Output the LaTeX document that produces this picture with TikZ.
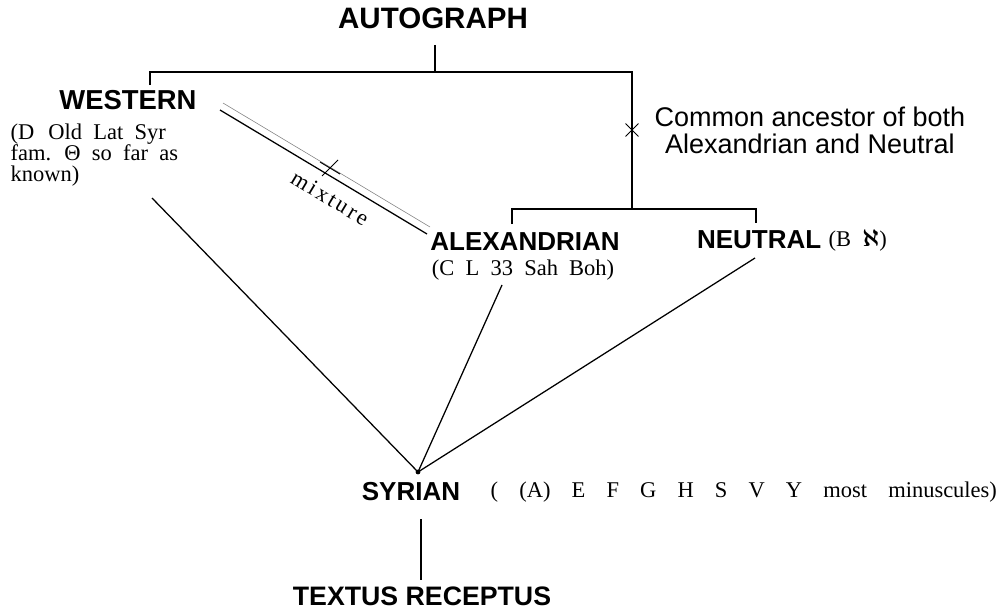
\documentclass[tikz,border=0pt]{standalone}
\usepackage{fontspec}
\setmainfont{Liberation Serif}
\setsansfont{Liberation Sans}
\newfontfamily\spacedfont[LetterSpace=12]{Liberation Serif}
\newcommand\wordgap[1]{\spaceskip #1\relax}
\usetikzlibrary{shapes.misc}

\begin{document}
\begin{tikzpicture}[line width=0.9pt,
		family/.style={font=\sffamily\bfseries\fontsize{18.5}{20}\selectfont, inner sep=0pt},
		witness/.style={font={\fontsize{16}{15}\selectfont\wordgap{0.5em}}, inner sep=0pt},
		remark/.style={font=\sffamily\fontsize{19.2}{19}\selectfont, align=center, inner sep=0pt}]
	\useasboundingbox (0,0) rectangle (25.15,-15.3);

	\node[family, font=\sffamily\bfseries\fontsize{21}{22}\selectfont] (auto) at (10.825,-0.45) {AUTOGRAPH};
	\node[family, font=\sffamily\bfseries\fontsize{19.5}{21}\selectfont] (west) at (3.2,-2.5) {WESTERN};
	\node[witness, anchor=north west, align=left, font={\fontsize{16}{15}\selectfont\wordgap{0.5em}}] (westnote) at (0.25,-3.08)
		{(D\hspace{2pt} Old Lat Syr\\ fam. Θ so far as\\ known)};
	\node[family] (alex) at (13.125,-6.05) {ALEXANDRIAN};
	\node[witness] (alexnote) at (13.075,-6.75) {(C L 33 Sah Boh)};
	\node[family] (neut) at (18.98,-6.0) {NEUTRAL};
	\node[witness, anchor=west] (neutnote) at (20.7,-6.0) {(B {\boldmath$\aleph$})};
	\node[family] (syr) at (10.275,-12.3) {SYRIAN};
	\node[witness, anchor=west, font={\fontsize{16}{15}\selectfont\wordgap{0.94em}}] (syrnote) at (12.25,-12.3)
		{( (A) E F G H S V Y most minuscules)};
	\node[family, font=\sffamily\bfseries\fontsize{19}{20}\selectfont] (tr) at (10.55,-14.9) {TEXTUS RECEPTUS};

	% common ancestor
	\node[draw, cross out, minimum size=0.3cm, inner sep=0pt, line width=0.7pt] (ca) at (15.8,-3.25) {};
	\node[remark] (canote) at (20.25,-3.25) {Common ancestor of both\\ Alexandrian and Neutral};

	\coordinate (top) at (10.875,-1.8);
	\coordinate (wtick) at (3.75,-2.125);
	\coordinate (low) at (15.8,-5.225);
	\coordinate (atick) at (12.8,-5.6);
	\coordinate (ntick) at (18.9,-5.575);
	\coordinate (apex) at (10.45,-11.8);
	\coordinate (trtop) at (10.525,-12.975);
	\coordinate (trbot) at (10.525,-14.5);

	\draw (10.875,-1.125) -- (top);
	\draw (wtick) |- (top) -| (ca.center) -- (low);
	\draw (atick) |- (low) -| (ntick);

	\draw (3.8,-4.95) -- (apex);
	\draw (12.55,-7.125) -- (apex);
	\draw (18.875,-6.45) -- (apex);
	\fill (apex) circle (0.06);
	\draw (trtop) -- (trbot);

	% mixture
	\draw[line width=0.4pt, gray] (5.575,-2.575) -- (10.75,-5.675);
	\draw (5.5,-2.75) -- (10.675,-5.85);
	\draw[line width=0.7pt] (8.0,-4.05) -- (8.5,-4.35) (8.05,-4.4) -- (8.45,-4.0);
	\node[witness, rotate=-31] (mix) at (8.25,-4.95) {\spacedfont mixture};
\end{tikzpicture}
\end{document}
